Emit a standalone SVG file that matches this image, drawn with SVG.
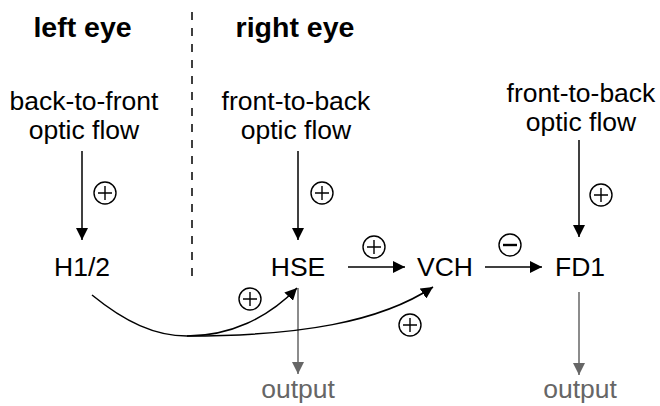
<svg xmlns="http://www.w3.org/2000/svg" width="660" height="406" viewBox="0 0 660 406">
<defs>
<marker id="ah" viewBox="0 0 12 12" refX="12" refY="6" markerWidth="12" markerHeight="12" markerUnits="userSpaceOnUse" orient="auto"><path d="M0,0 L12,6 L0,12 Z" fill="#000"/></marker>
<marker id="ahg" viewBox="0 0 12 12" refX="12" refY="6" markerWidth="12" markerHeight="12" markerUnits="userSpaceOnUse" orient="auto"><path d="M0,0 L12,6 L0,12 Z" fill="#666"/></marker>
<g id="plus"><circle cx="0" cy="0" r="11" fill="#fff" stroke="#000" stroke-width="1.4"/><path d="M-7,0 H7 M0,-7 V7" stroke="#000" stroke-width="1.4"/></g>
<g id="minus"><circle cx="0" cy="0" r="11" fill="#fff" stroke="#000" stroke-width="1.4"/><path d="M-7,0 H7" stroke="#000" stroke-width="2.4"/></g>
</defs>
<style>
text{font-family:"Liberation Sans",Arial,sans-serif;font-size:26.5px;fill:#000;text-anchor:middle}
.title{font-weight:bold;font-size:28.5px}
.gray{fill:#666}
.ln{stroke:#000;stroke-width:1.5;fill:none}
.lg{stroke:#666;stroke-width:1.5;fill:none}
</style>
<g id="headers">
<text class="title" x="82.5" y="37">left eye</text>
<text class="title" x="295" y="37">right eye</text>
<line x1="192" y1="12" x2="192" y2="277" stroke="#000" stroke-width="1.5" stroke-dasharray="8 8"/>
</g>
<g id="input-left">
<text x="84" y="110">back-to-front</text>
<text x="84" y="139">optic flow</text>
</g>
<g id="input-hse">
<text x="296" y="110">front-to-back</text>
<text x="296" y="139">optic flow</text>
</g>
<g id="input-fd1">
<text x="581" y="102">front-to-back</text>
<text x="581" y="131">optic flow</text>
</g>
<g id="H12"><text x="82" y="276">H1/2</text></g>
<g id="HSE"><text x="298" y="276">HSE</text></g>
<g id="VCH"><text x="445" y="276">VCH</text></g>
<g id="FD1"><text x="580" y="276">FD1</text></g>
<g id="out-hse"><text class="gray" x="298" y="398">output</text></g>
<g id="out-fd1"><text class="gray" x="580" y="398">output</text></g>
<g id="connectors">
<line class="ln" x1="82" y1="151" x2="82" y2="240" marker-end="url(#ah)"/>
<line class="ln" x1="298" y1="151" x2="298" y2="240" marker-end="url(#ah)"/>
<line class="ln" x1="579" y1="140" x2="579" y2="237" marker-end="url(#ah)"/>
<line class="ln" x1="348" y1="267" x2="405" y2="267" marker-end="url(#ah)"/>
<line class="ln" x1="485" y1="267" x2="542" y2="267" marker-end="url(#ah)"/>
<line class="lg" x1="298" y1="288" x2="298" y2="374" marker-end="url(#ahg)"/>
<line class="lg" x1="579" y1="292" x2="579" y2="375" marker-end="url(#ahg)"/>
<path class="ln" d="M92,295 C125,322 155,336 187,336 C230,336 268,318 297,288" marker-end="url(#ah)"/>
<path class="ln" d="M187,336 C300,336 380,322 433,287" marker-end="url(#ah)"/>
<use href="#plus" x="105" y="193"/>
<use href="#plus" x="322" y="193"/>
<use href="#plus" x="601" y="195"/>
<use href="#plus" x="374" y="247"/>
<use href="#minus" x="510" y="245"/>
<use href="#plus" x="250" y="299"/>
<use href="#plus" x="410" y="325"/>
</g>
</svg>
